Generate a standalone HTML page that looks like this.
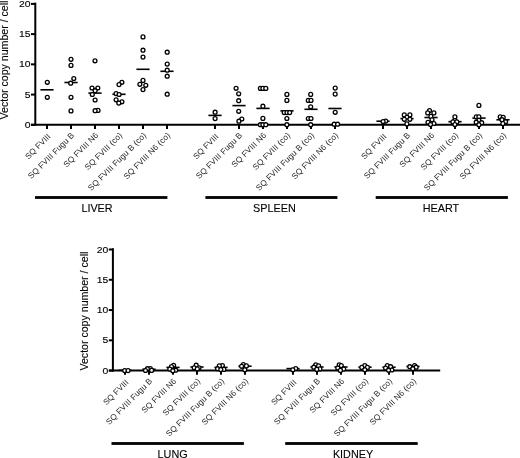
<!DOCTYPE html>
<html><head><meta charset="utf-8"><style>
html,body{margin:0;padding:0;background:#fff;width:520px;height:458px;overflow:hidden}
svg{display:block;will-change:transform}
svg text{font-family:"Liberation Sans",sans-serif;fill:#000;stroke:#000;stroke-width:0.12px}
svg text.tl{fill:#1e1e1e;stroke:none;letter-spacing:0.1px}
svg circle{fill:#fff;stroke:#000;stroke-width:1.3px}
</style></head><body>
<svg width="520" height="458" viewBox="0 0 520 458">
<line x1="35.3" y1="2.6" x2="35.3" y2="125.8" stroke="#000" stroke-width="2.0"/>
<line x1="31" y1="124.8" x2="520" y2="124.8" stroke="#000" stroke-width="2.0"/>
<line x1="31" y1="124.80" x2="35.3" y2="124.80" stroke="#000" stroke-width="2.0"/>
<text x="0" y="0" font-size="9.3" text-anchor="end" transform="translate(30.5,127.83) scale(1.12,1)">0</text>
<line x1="31" y1="94.58" x2="35.3" y2="94.58" stroke="#000" stroke-width="2.0"/>
<text x="0" y="0" font-size="9.3" text-anchor="end" transform="translate(30.5,97.60) scale(1.12,1)">5</text>
<line x1="31" y1="64.35" x2="35.3" y2="64.35" stroke="#000" stroke-width="2.0"/>
<text x="0" y="0" font-size="9.3" text-anchor="end" transform="translate(30.5,67.38) scale(1.12,1)">10</text>
<line x1="31" y1="34.12" x2="35.3" y2="34.12" stroke="#000" stroke-width="2.0"/>
<text x="0" y="0" font-size="9.3" text-anchor="end" transform="translate(30.5,37.15) scale(1.12,1)">15</text>
<line x1="31" y1="3.90" x2="35.3" y2="3.90" stroke="#000" stroke-width="2.0"/>
<text x="0" y="0" font-size="9.3" text-anchor="end" transform="translate(30.5,6.93) scale(1.12,1)">20</text>
<line x1="47" y1="124.8" x2="47" y2="129.0" stroke="#000" stroke-width="2.0"/>
<line x1="71" y1="124.8" x2="71" y2="129.0" stroke="#000" stroke-width="2.0"/>
<line x1="95" y1="124.8" x2="95" y2="129.0" stroke="#000" stroke-width="2.0"/>
<line x1="119" y1="124.8" x2="119" y2="129.0" stroke="#000" stroke-width="2.0"/>
<line x1="143" y1="124.8" x2="143" y2="129.0" stroke="#000" stroke-width="2.0"/>
<line x1="167" y1="124.8" x2="167" y2="129.0" stroke="#000" stroke-width="2.0"/>
<line x1="215" y1="124.8" x2="215" y2="129.0" stroke="#000" stroke-width="2.0"/>
<line x1="239" y1="124.8" x2="239" y2="129.0" stroke="#000" stroke-width="2.0"/>
<line x1="263" y1="124.8" x2="263" y2="129.0" stroke="#000" stroke-width="2.0"/>
<line x1="287" y1="124.8" x2="287" y2="129.0" stroke="#000" stroke-width="2.0"/>
<line x1="311" y1="124.8" x2="311" y2="129.0" stroke="#000" stroke-width="2.0"/>
<line x1="335" y1="124.8" x2="335" y2="129.0" stroke="#000" stroke-width="2.0"/>
<line x1="383" y1="124.8" x2="383" y2="129.0" stroke="#000" stroke-width="2.0"/>
<line x1="407" y1="124.8" x2="407" y2="129.0" stroke="#000" stroke-width="2.0"/>
<line x1="431" y1="124.8" x2="431" y2="129.0" stroke="#000" stroke-width="2.0"/>
<line x1="455" y1="124.8" x2="455" y2="129.0" stroke="#000" stroke-width="2.0"/>
<line x1="479" y1="124.8" x2="479" y2="129.0" stroke="#000" stroke-width="2.0"/>
<line x1="503" y1="124.8" x2="503" y2="129.0" stroke="#000" stroke-width="2.0"/>
<text class="tl" x="0" y="0" font-size="8.2" text-anchor="end" transform="translate(51.20,137.00) rotate(-45)">SQ FVIII</text>
<text class="tl" x="0" y="0" font-size="8.2" text-anchor="end" transform="translate(74.80,135.80) rotate(-45)">SQ FVIII Fugu B</text>
<text class="tl" x="0" y="0" font-size="8.2" text-anchor="end" transform="translate(98.80,135.80) rotate(-45)">SQ FVIII N6</text>
<text class="tl" x="0" y="0" font-size="8.2" text-anchor="end" transform="translate(122.80,135.80) rotate(-45)">SQ FVIII (co)</text>
<text class="tl" x="0" y="0" font-size="8.2" text-anchor="end" transform="translate(146.80,135.80) rotate(-45)">SQ FVIII Fugu B (co)</text>
<text class="tl" x="0" y="0" font-size="8.2" text-anchor="end" transform="translate(170.80,135.80) rotate(-45)">SQ FVIII N6 (co)</text>
<text class="tl" x="0" y="0" font-size="8.2" text-anchor="end" transform="translate(219.20,137.00) rotate(-45)">SQ FVIII</text>
<text class="tl" x="0" y="0" font-size="8.2" text-anchor="end" transform="translate(242.80,135.80) rotate(-45)">SQ FVIII Fugu B</text>
<text class="tl" x="0" y="0" font-size="8.2" text-anchor="end" transform="translate(266.80,135.80) rotate(-45)">SQ FVIII N6</text>
<text class="tl" x="0" y="0" font-size="8.2" text-anchor="end" transform="translate(290.80,135.80) rotate(-45)">SQ FVIII (co)</text>
<text class="tl" x="0" y="0" font-size="8.2" text-anchor="end" transform="translate(314.80,135.80) rotate(-45)">SQ FVIII Fugu B (co)</text>
<text class="tl" x="0" y="0" font-size="8.2" text-anchor="end" transform="translate(338.80,135.80) rotate(-45)">SQ FVIII N6 (co)</text>
<text class="tl" x="0" y="0" font-size="8.2" text-anchor="end" transform="translate(387.20,137.00) rotate(-45)">SQ FVIII</text>
<text class="tl" x="0" y="0" font-size="8.2" text-anchor="end" transform="translate(410.80,135.80) rotate(-45)">SQ FVIII Fugu B</text>
<text class="tl" x="0" y="0" font-size="8.2" text-anchor="end" transform="translate(434.80,135.80) rotate(-45)">SQ FVIII N6</text>
<text class="tl" x="0" y="0" font-size="8.2" text-anchor="end" transform="translate(458.80,135.80) rotate(-45)">SQ FVIII (co)</text>
<text class="tl" x="0" y="0" font-size="8.2" text-anchor="end" transform="translate(482.80,135.80) rotate(-45)">SQ FVIII Fugu B (co)</text>
<text class="tl" x="0" y="0" font-size="8.2" text-anchor="end" transform="translate(506.80,135.80) rotate(-45)">SQ FVIII N6 (co)</text>
<line x1="40.40" y1="89.8" x2="53.60" y2="89.8" stroke="#000" stroke-width="1.6"/>
<line x1="64.40" y1="82.5" x2="77.60" y2="82.5" stroke="#000" stroke-width="1.6"/>
<line x1="88.40" y1="93.1" x2="101.60" y2="93.1" stroke="#000" stroke-width="1.6"/>
<line x1="112.40" y1="94.3" x2="125.60" y2="94.3" stroke="#000" stroke-width="1.6"/>
<line x1="136.40" y1="69.3" x2="149.60" y2="69.3" stroke="#000" stroke-width="1.6"/>
<line x1="160.40" y1="71.3" x2="173.60" y2="71.3" stroke="#000" stroke-width="1.6"/>
<line x1="208.40" y1="115.4" x2="221.60" y2="115.4" stroke="#000" stroke-width="1.6"/>
<line x1="232.40" y1="105.6" x2="245.60" y2="105.6" stroke="#000" stroke-width="1.6"/>
<line x1="256.40" y1="108.4" x2="269.60" y2="108.4" stroke="#000" stroke-width="1.6"/>
<line x1="280.40" y1="110.9" x2="293.60" y2="110.9" stroke="#000" stroke-width="1.6"/>
<line x1="304.40" y1="109.3" x2="317.60" y2="109.3" stroke="#000" stroke-width="1.6"/>
<line x1="328.40" y1="108.5" x2="341.60" y2="108.5" stroke="#000" stroke-width="1.6"/>
<line x1="376.40" y1="121.2" x2="389.60" y2="121.2" stroke="#000" stroke-width="1.6"/>
<line x1="400.40" y1="118.6" x2="413.60" y2="118.6" stroke="#000" stroke-width="1.6"/>
<line x1="424.40" y1="117.5" x2="437.60" y2="117.5" stroke="#000" stroke-width="1.6"/>
<line x1="448.40" y1="121.7" x2="461.60" y2="121.7" stroke="#000" stroke-width="1.6"/>
<line x1="472.40" y1="118.1" x2="485.60" y2="118.1" stroke="#000" stroke-width="1.6"/>
<line x1="496.40" y1="119.8" x2="509.60" y2="119.8" stroke="#000" stroke-width="1.6"/>
<circle cx="47.3" cy="82.3" r="1.95"/>
<circle cx="47.3" cy="97.3" r="1.95"/>
<circle cx="71" cy="59.3" r="1.95"/>
<circle cx="71" cy="65.4" r="1.95"/>
<circle cx="73.8" cy="78.5" r="1.95"/>
<circle cx="70.7" cy="83.2" r="1.95"/>
<circle cx="71" cy="97.3" r="1.95"/>
<circle cx="71" cy="110.9" r="1.95"/>
<circle cx="95" cy="60.8" r="1.95"/>
<circle cx="92" cy="88" r="1.95"/>
<circle cx="97.8" cy="88" r="1.95"/>
<circle cx="95.1" cy="90.7" r="1.95"/>
<circle cx="92.3" cy="94.5" r="1.95"/>
<circle cx="95.1" cy="100" r="1.95"/>
<circle cx="98" cy="110.4" r="1.95"/>
<circle cx="95.1" cy="110.7" r="1.95"/>
<circle cx="121.9" cy="82.3" r="1.95"/>
<circle cx="119" cy="84.6" r="1.95"/>
<circle cx="116.1" cy="93.6" r="1.95"/>
<circle cx="119.1" cy="94.5" r="1.95"/>
<circle cx="116.1" cy="99.8" r="1.95"/>
<circle cx="121.9" cy="101.8" r="1.95"/>
<circle cx="118.8" cy="103.1" r="1.95"/>
<circle cx="143" cy="36.9" r="1.95"/>
<circle cx="143" cy="50.2" r="1.95"/>
<circle cx="143" cy="57.1" r="1.95"/>
<circle cx="143" cy="80.4" r="1.95"/>
<circle cx="139.9" cy="84.3" r="1.95"/>
<circle cx="145.8" cy="85.3" r="1.95"/>
<circle cx="143" cy="89.6" r="1.95"/>
<circle cx="167.2" cy="52.2" r="1.95"/>
<circle cx="167.2" cy="64.1" r="1.95"/>
<circle cx="167.2" cy="70.2" r="1.95"/>
<circle cx="167.2" cy="76.2" r="1.95"/>
<circle cx="167.2" cy="94.2" r="1.95"/>
<circle cx="215.1" cy="112.2" r="1.95"/>
<circle cx="215.1" cy="118.6" r="1.95"/>
<circle cx="236.1" cy="88.3" r="1.95"/>
<circle cx="238.7" cy="93.8" r="1.95"/>
<circle cx="238.7" cy="100.7" r="1.95"/>
<circle cx="238.7" cy="111.3" r="1.95"/>
<circle cx="241.8" cy="119" r="1.95"/>
<circle cx="238.9" cy="121.2" r="1.95"/>
<circle cx="260.4" cy="88.4" r="1.95"/>
<circle cx="262.9" cy="88.4" r="1.95"/>
<circle cx="265.8" cy="88.4" r="1.95"/>
<circle cx="262.9" cy="106.2" r="1.95"/>
<circle cx="262.9" cy="118.4" r="1.95"/>
<circle cx="260.4" cy="124.7" r="1.95"/>
<circle cx="262.9" cy="124.7" r="1.95"/>
<circle cx="265.8" cy="124.7" r="1.95"/>
<circle cx="286.9" cy="94.4" r="1.95"/>
<circle cx="286.9" cy="100.4" r="1.95"/>
<circle cx="284.2" cy="112.6" r="1.95"/>
<circle cx="287" cy="112.6" r="1.95"/>
<circle cx="289.7" cy="112.6" r="1.95"/>
<circle cx="286.9" cy="118.5" r="1.95"/>
<circle cx="286.9" cy="124.7" r="1.95"/>
<circle cx="310.7" cy="94.4" r="1.95"/>
<circle cx="308.3" cy="100.4" r="1.95"/>
<circle cx="311" cy="100.4" r="1.95"/>
<circle cx="310.7" cy="106.8" r="1.95"/>
<circle cx="308.3" cy="118.5" r="1.95"/>
<circle cx="311" cy="118.5" r="1.95"/>
<circle cx="310.7" cy="124.7" r="1.95"/>
<circle cx="335.2" cy="88.1" r="1.95"/>
<circle cx="335.2" cy="94.1" r="1.95"/>
<circle cx="335.2" cy="112.3" r="1.95"/>
<circle cx="334.2" cy="124.2" r="1.95"/>
<circle cx="337.6" cy="124.2" r="1.95"/>
<circle cx="385.7" cy="121.1" r="1.95"/>
<circle cx="383.1" cy="121.5" r="1.95"/>
<circle cx="404.3" cy="114.9" r="1.95"/>
<circle cx="409.9" cy="114.9" r="1.95"/>
<circle cx="406.9" cy="117.3" r="1.95"/>
<circle cx="404.3" cy="119.3" r="1.95"/>
<circle cx="409.9" cy="119.3" r="1.95"/>
<circle cx="406.9" cy="123.9" r="1.95"/>
<circle cx="429.5" cy="110.6" r="1.95"/>
<circle cx="427.7" cy="112.9" r="1.95"/>
<circle cx="433.9" cy="112.9" r="1.95"/>
<circle cx="430.9" cy="116.4" r="1.95"/>
<circle cx="432" cy="119.8" r="1.95"/>
<circle cx="428" cy="122.3" r="1.95"/>
<circle cx="433.9" cy="123.5" r="1.95"/>
<circle cx="430.5" cy="124.5" r="1.95"/>
<circle cx="454.9" cy="116.9" r="1.95"/>
<circle cx="454.9" cy="120.5" r="1.95"/>
<circle cx="452.9" cy="121.9" r="1.95"/>
<circle cx="456.8" cy="121.9" r="1.95"/>
<circle cx="454.9" cy="124.5" r="1.95"/>
<circle cx="478.9" cy="105.4" r="1.95"/>
<circle cx="476.3" cy="116.9" r="1.95"/>
<circle cx="478.9" cy="116.9" r="1.95"/>
<circle cx="478.9" cy="120.2" r="1.95"/>
<circle cx="476.2" cy="122.2" r="1.95"/>
<circle cx="481.7" cy="122.7" r="1.95"/>
<circle cx="478.9" cy="124.8" r="1.95"/>
<circle cx="500.2" cy="116.8" r="1.95"/>
<circle cx="503.2" cy="117.4" r="1.95"/>
<circle cx="502" cy="119.7" r="1.95"/>
<circle cx="505.6" cy="121.7" r="1.95"/>
<circle cx="502.9" cy="123.6" r="1.95"/>
<rect x="35" y="196.10" width="132.40" height="2.8" fill="#000"/>
<text x="97.0" y="211.5" font-size="10.8" text-anchor="middle">LIVER</text>
<rect x="205.4" y="196.10" width="132.00" height="2.8" fill="#000"/>
<text x="274.4" y="211.5" font-size="10.8" text-anchor="middle">SPLEEN</text>
<rect x="375.7" y="196.10" width="132.20" height="2.8" fill="#000"/>
<text x="441.0" y="211.5" font-size="10.8" text-anchor="middle">HEART</text>
<text x="0" y="0" font-size="10.6" transform="translate(7.5,119.4) rotate(-90) scale(1,1.08)">Vector copy number / cell</text>
<line x1="112.9" y1="248.2" x2="112.9" y2="371.6" stroke="#000" stroke-width="2.0"/>
<line x1="108.8" y1="370.6" x2="440.2" y2="370.6" stroke="#000" stroke-width="2.0"/>
<line x1="108.8" y1="370.60" x2="112.9" y2="370.60" stroke="#000" stroke-width="2.0"/>
<text x="0" y="0" font-size="9.3" text-anchor="end" transform="translate(108.2,373.63) scale(1.12,1)">0</text>
<line x1="108.8" y1="340.33" x2="112.9" y2="340.33" stroke="#000" stroke-width="2.0"/>
<text x="0" y="0" font-size="9.3" text-anchor="end" transform="translate(108.2,343.35) scale(1.12,1)">5</text>
<line x1="108.8" y1="310.05" x2="112.9" y2="310.05" stroke="#000" stroke-width="2.0"/>
<text x="0" y="0" font-size="9.3" text-anchor="end" transform="translate(108.2,313.08) scale(1.12,1)">10</text>
<line x1="108.8" y1="279.77" x2="112.9" y2="279.77" stroke="#000" stroke-width="2.0"/>
<text x="0" y="0" font-size="9.3" text-anchor="end" transform="translate(108.2,282.80) scale(1.12,1)">15</text>
<line x1="108.8" y1="249.50" x2="112.9" y2="249.50" stroke="#000" stroke-width="2.0"/>
<text x="0" y="0" font-size="9.3" text-anchor="end" transform="translate(108.2,252.53) scale(1.12,1)">20</text>
<line x1="125" y1="370.6" x2="125" y2="374.8" stroke="#000" stroke-width="2.0"/>
<line x1="149" y1="370.6" x2="149" y2="374.8" stroke="#000" stroke-width="2.0"/>
<line x1="173" y1="370.6" x2="173" y2="374.8" stroke="#000" stroke-width="2.0"/>
<line x1="197" y1="370.6" x2="197" y2="374.8" stroke="#000" stroke-width="2.0"/>
<line x1="221" y1="370.6" x2="221" y2="374.8" stroke="#000" stroke-width="2.0"/>
<line x1="245" y1="370.6" x2="245" y2="374.8" stroke="#000" stroke-width="2.0"/>
<line x1="293" y1="370.6" x2="293" y2="374.8" stroke="#000" stroke-width="2.0"/>
<line x1="317" y1="370.6" x2="317" y2="374.8" stroke="#000" stroke-width="2.0"/>
<line x1="341" y1="370.6" x2="341" y2="374.8" stroke="#000" stroke-width="2.0"/>
<line x1="365" y1="370.6" x2="365" y2="374.8" stroke="#000" stroke-width="2.0"/>
<line x1="389" y1="370.6" x2="389" y2="374.8" stroke="#000" stroke-width="2.0"/>
<line x1="413" y1="370.6" x2="413" y2="374.8" stroke="#000" stroke-width="2.0"/>
<text class="tl" x="0" y="0" font-size="8.2" text-anchor="end" transform="translate(129.20,382.80) rotate(-45)">SQ FVIII</text>
<text class="tl" x="0" y="0" font-size="8.2" text-anchor="end" transform="translate(152.80,381.60) rotate(-45)">SQ FVIII Fugu B</text>
<text class="tl" x="0" y="0" font-size="8.2" text-anchor="end" transform="translate(176.80,381.60) rotate(-45)">SQ FVIII N6</text>
<text class="tl" x="0" y="0" font-size="8.2" text-anchor="end" transform="translate(200.80,381.60) rotate(-45)">SQ FVIII (co)</text>
<text class="tl" x="0" y="0" font-size="8.2" text-anchor="end" transform="translate(224.80,381.60) rotate(-45)">SQ FVIII Fugu B (co)</text>
<text class="tl" x="0" y="0" font-size="8.2" text-anchor="end" transform="translate(248.80,381.60) rotate(-45)">SQ FVIII N6 (co)</text>
<text class="tl" x="0" y="0" font-size="8.2" text-anchor="end" transform="translate(297.20,382.80) rotate(-45)">SQ FVIII</text>
<text class="tl" x="0" y="0" font-size="8.2" text-anchor="end" transform="translate(320.80,381.60) rotate(-45)">SQ FVIII Fugu B</text>
<text class="tl" x="0" y="0" font-size="8.2" text-anchor="end" transform="translate(344.80,381.60) rotate(-45)">SQ FVIII N6</text>
<text class="tl" x="0" y="0" font-size="8.2" text-anchor="end" transform="translate(368.80,381.60) rotate(-45)">SQ FVIII (co)</text>
<text class="tl" x="0" y="0" font-size="8.2" text-anchor="end" transform="translate(392.80,381.60) rotate(-45)">SQ FVIII Fugu B (co)</text>
<text class="tl" x="0" y="0" font-size="8.2" text-anchor="end" transform="translate(416.80,381.60) rotate(-45)">SQ FVIII N6 (co)</text>
<line x1="118.40" y1="370.3" x2="131.60" y2="370.3" stroke="#000" stroke-width="1.6"/>
<line x1="142.40" y1="369.2" x2="155.60" y2="369.2" stroke="#000" stroke-width="1.6"/>
<line x1="166.40" y1="367.4" x2="179.60" y2="367.4" stroke="#000" stroke-width="1.6"/>
<line x1="190.40" y1="367.0" x2="203.60" y2="367.0" stroke="#000" stroke-width="1.6"/>
<line x1="214.40" y1="367.4" x2="227.60" y2="367.4" stroke="#000" stroke-width="1.6"/>
<line x1="238.40" y1="366.2" x2="251.60" y2="366.2" stroke="#000" stroke-width="1.6"/>
<line x1="286.40" y1="368.6" x2="299.60" y2="368.6" stroke="#000" stroke-width="1.6"/>
<line x1="310.40" y1="367.0" x2="323.60" y2="367.0" stroke="#000" stroke-width="1.6"/>
<line x1="334.40" y1="367.0" x2="347.60" y2="367.0" stroke="#000" stroke-width="1.6"/>
<line x1="358.40" y1="367.2" x2="371.60" y2="367.2" stroke="#000" stroke-width="1.6"/>
<line x1="382.40" y1="367.2" x2="395.60" y2="367.2" stroke="#000" stroke-width="1.6"/>
<line x1="406.40" y1="366.5" x2="419.60" y2="366.5" stroke="#000" stroke-width="1.6"/>
<circle cx="124.7" cy="370.6" r="1.95"/>
<circle cx="128.1" cy="370.6" r="1.95"/>
<circle cx="150.3" cy="368.6" r="1.95"/>
<circle cx="147.4" cy="368.7" r="1.95"/>
<circle cx="151.6" cy="370.4" r="1.95"/>
<circle cx="145.5" cy="370.5" r="1.95"/>
<circle cx="173.6" cy="365.3" r="1.95"/>
<circle cx="171.5" cy="366.6" r="1.95"/>
<circle cx="169.8" cy="369.1" r="1.95"/>
<circle cx="175.7" cy="370.2" r="1.95"/>
<circle cx="172.8" cy="370.7" r="1.95"/>
<circle cx="196.2" cy="365.2" r="1.95"/>
<circle cx="194.2" cy="367.8" r="1.95"/>
<circle cx="199" cy="367.8" r="1.95"/>
<circle cx="197.3" cy="368.9" r="1.95"/>
<circle cx="222.4" cy="365.5" r="1.95"/>
<circle cx="219.3" cy="365.9" r="1.95"/>
<circle cx="217.6" cy="368.7" r="1.95"/>
<circle cx="223.9" cy="369.4" r="1.95"/>
<circle cx="220.8" cy="369.6" r="1.95"/>
<circle cx="243.3" cy="364.6" r="1.95"/>
<circle cx="246.4" cy="365.9" r="1.95"/>
<circle cx="241.6" cy="366.3" r="1.95"/>
<circle cx="244.8" cy="369.8" r="1.95"/>
<circle cx="295.7" cy="368.5" r="1.95"/>
<circle cx="292.8" cy="369.8" r="1.95"/>
<circle cx="315.7" cy="364.8" r="1.95"/>
<circle cx="318.6" cy="365.9" r="1.95"/>
<circle cx="313.8" cy="367.2" r="1.95"/>
<circle cx="319.9" cy="368.9" r="1.95"/>
<circle cx="316.8" cy="369.4" r="1.95"/>
<circle cx="339.2" cy="364.9" r="1.95"/>
<circle cx="341.3" cy="365.6" r="1.95"/>
<circle cx="337.8" cy="368" r="1.95"/>
<circle cx="343.7" cy="369.1" r="1.95"/>
<circle cx="340.4" cy="370.4" r="1.95"/>
<circle cx="364.8" cy="365.6" r="1.95"/>
<circle cx="361.8" cy="367.4" r="1.95"/>
<circle cx="367.4" cy="367.4" r="1.95"/>
<circle cx="364.8" cy="369.8" r="1.95"/>
<circle cx="387.3" cy="365.6" r="1.95"/>
<circle cx="390.6" cy="366.7" r="1.95"/>
<circle cx="385.6" cy="368" r="1.95"/>
<circle cx="391.9" cy="370" r="1.95"/>
<circle cx="388.6" cy="370.2" r="1.95"/>
<circle cx="414.6" cy="365.6" r="1.95"/>
<circle cx="409.8" cy="366.7" r="1.95"/>
<circle cx="416.1" cy="367.2" r="1.95"/>
<circle cx="412.8" cy="368.7" r="1.95"/>
<rect x="111.5" y="442.10" width="132.40" height="2.8" fill="#000"/>
<text x="172.6" y="457.5" font-size="10.8" text-anchor="middle">LUNG</text>
<rect x="285.2" y="442.10" width="132.50" height="2.8" fill="#000"/>
<text x="353.0" y="457.5" font-size="10.8" text-anchor="middle">KIDNEY</text>
<text x="0" y="0" font-size="10.6" transform="translate(87.6,370.5) rotate(-90) scale(1,1.08)">Vector copy number / cell</text>
</svg>
</body></html>
